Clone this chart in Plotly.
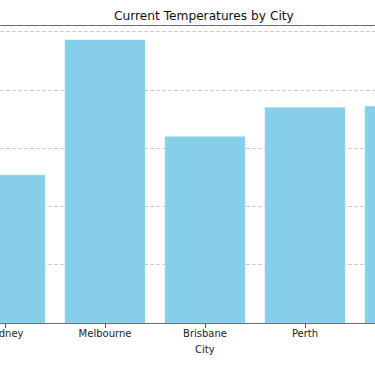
import plotly.graph_objects as go

cities = ["Sydney", "Melbourne", "Brisbane", "Perth", "Adelaide"]
temperatures = [12.7, 24.3, 16.0, 18.5, 18.6]
y_ticks = [0, 5, 10, 15, 20, 25]

fig = go.Figure()
fig.add_trace(go.Bar(
    x=cities, y=temperatures, width=0.8,
    marker=dict(color="#87CEEB", line=dict(color="#a9dcf0", width=0.6)),
))

fig.update_layout(
    width=375, height=366,
    margin=dict(l=0, r=0, t=26, b=43, pad=0, autoexpand=False),
    plot_bgcolor="white", paper_bgcolor="white",
    showlegend=False,
    bargap=0.2,
    font=dict(family="DejaVu Sans", size=10, color="#222"),
)
fig.update_xaxes(
    type="category", range=[-0.05, 3.70], automargin=False,
    showline=True, linecolor="#6e6e6e", linewidth=1.4, mirror=True,
    ticks="outside", ticklen=4, tickcolor="#555",
    showgrid=False, ticklabeloverflow="allow", ticklabelstandoff=-3,
    tickfont=dict(size=10, color="#222"),
)
fig.update_yaxes(
    range=[0, 25.5], tickvals=y_ticks, showticklabels=False, automargin=False,
    showgrid=True, gridcolor="#cccccc", gridwidth=0.8, griddash="4px,2px",
    zeroline=False, showline=False, ticks="",
)
fig.add_annotation(text="Current Temperatures by City", x=204/375, xref="paper", yref="paper",
                   y=1, yshift=10, yanchor="middle",
                   showarrow=False, font=dict(size=12.2, color="#111"))
fig.add_annotation(text="City", x=205/375, xref="paper", yref="paper", y=0,
                   yshift=-26, yanchor="middle", showarrow=False, font=dict(size=10, color="#222"))
fig.write_html("out.html", config=dict(displayModeBar=False),
               post_script="document.body.style.margin='0';document.body.style.overflow='hidden';")
